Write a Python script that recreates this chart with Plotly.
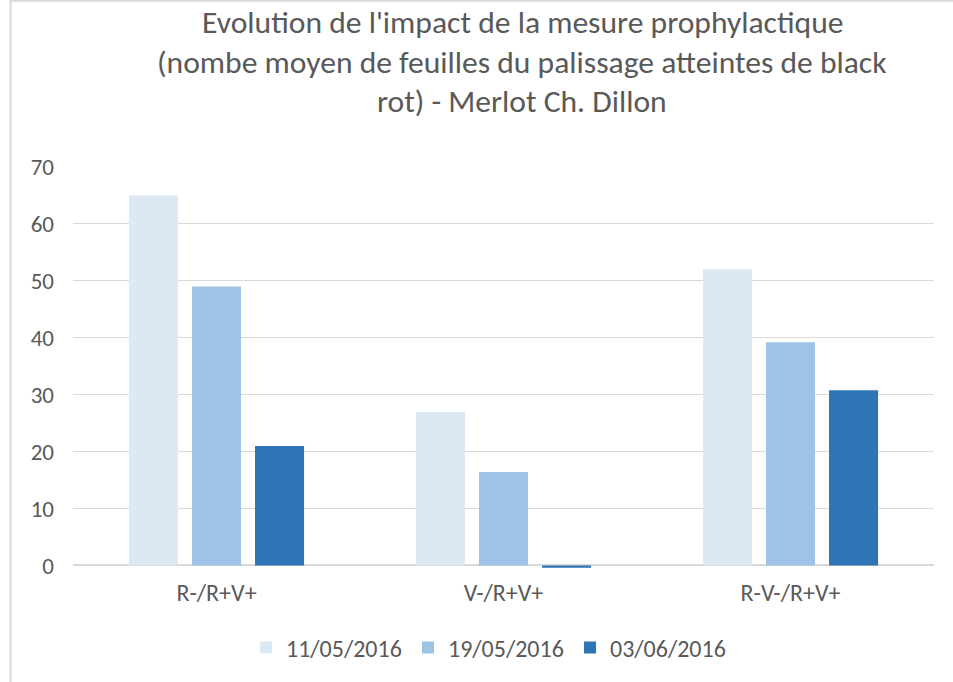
import plotly.graph_objects as go

categories = ["R-/R+V+", "V-/R+V+", "R-V-/R+V+"]
series_names = ["11/05/2016", "19/05/2016", "03/06/2016"]
values_1105 = [65, 27, 52]
values_1905 = [49, 16.4, 39.2]
values_0306 = [21, -0.4, 30.8]
colors = ["#dde8f5", "#9dc3e6", "#2e75b6"]
y_ticks = [0, 10, 20, 30, 40, 50, 60, 70]
title_lines = [
    "Evolution de l'impact de la mesure prophylactique",
    "(nombe moyen de feuilles du palissage atteintes de black",
    "rot) - Merlot Ch. Dillon",
]

FONT = "Carlito, Lato, sans-serif"
TXT = "#595959"

fig = go.Figure()
for name, vals, col in zip(series_names, [values_1105, values_1905, values_0306], colors):
    fig.add_trace(go.Bar(x=categories, y=vals, name=name, marker=dict(color=col, line=dict(width=0))))

W, H = 953, 682
L, R, T, B = 73, 19, 167, 114.4
ph = H - T - B

def py(p):
    return (H - B - p) / ph

def px(p):
    return (p - L) / (W - L - R)

annotations = []
for i, (line, yc) in enumerate(zip(title_lines, [22, 62, 101])):
    annotations.append(dict(text=line, xref="paper", yref="paper", x=px(522), y=py(yc),
                            xanchor="center", yanchor="middle", showarrow=False,
                            font=dict(family=FONT, size=31.6, color=TXT)))

fig.update_layout(
    width=W, height=H,
    margin=dict(l=L, r=R, t=T, b=B, pad=0),
    paper_bgcolor="white", plot_bgcolor="white",
    barmode="group", bargap=0.341, bargroupgap=0.222,
    font=dict(family=FONT, size=22, color=TXT),
    showlegend=True,
    legend=dict(orientation="h", xref="container", yref="container", x=489 / W, y=1 - 648 / H,
                xanchor="center", yanchor="middle", font=dict(size=24, color=TXT),
                itemwidth=30, traceorder="normal", entrywidth=117, entrywidthmode="pixels"),
    annotations=annotations,
    shapes=[
        dict(type="line", xref="paper", yref="paper", x0=px(10.5), x1=px(10.5), y0=py(0), y1=py(H + 5),
             line=dict(color="#d9d9d9", width=2)),
        dict(type="line", xref="paper", yref="paper", x0=px(10.5), x1=px(W + 5), y0=py(1), y1=py(1),
             line=dict(color="#d9d9d9", width=2)),
    ],
)
fig.update_yaxes(range=[-0.45, 70], tickvals=y_ticks, showgrid=True, gridcolor="#d9d9d9", gridwidth=1,
                 zeroline=True, zerolinecolor="#d9d9d9", zerolinewidth=1.5, showline=False,
                 ticks="", ticklabelstandoff=18, tickfont=dict(size=23, color=TXT))
fig.update_xaxes(showline=False, ticks="", ticklabelstandoff=8, tickfont=dict(size=24, color=TXT))

fig.write_html("out.html", config={"displayModeBar": False},
               post_script="document.body.style.margin='0';")
